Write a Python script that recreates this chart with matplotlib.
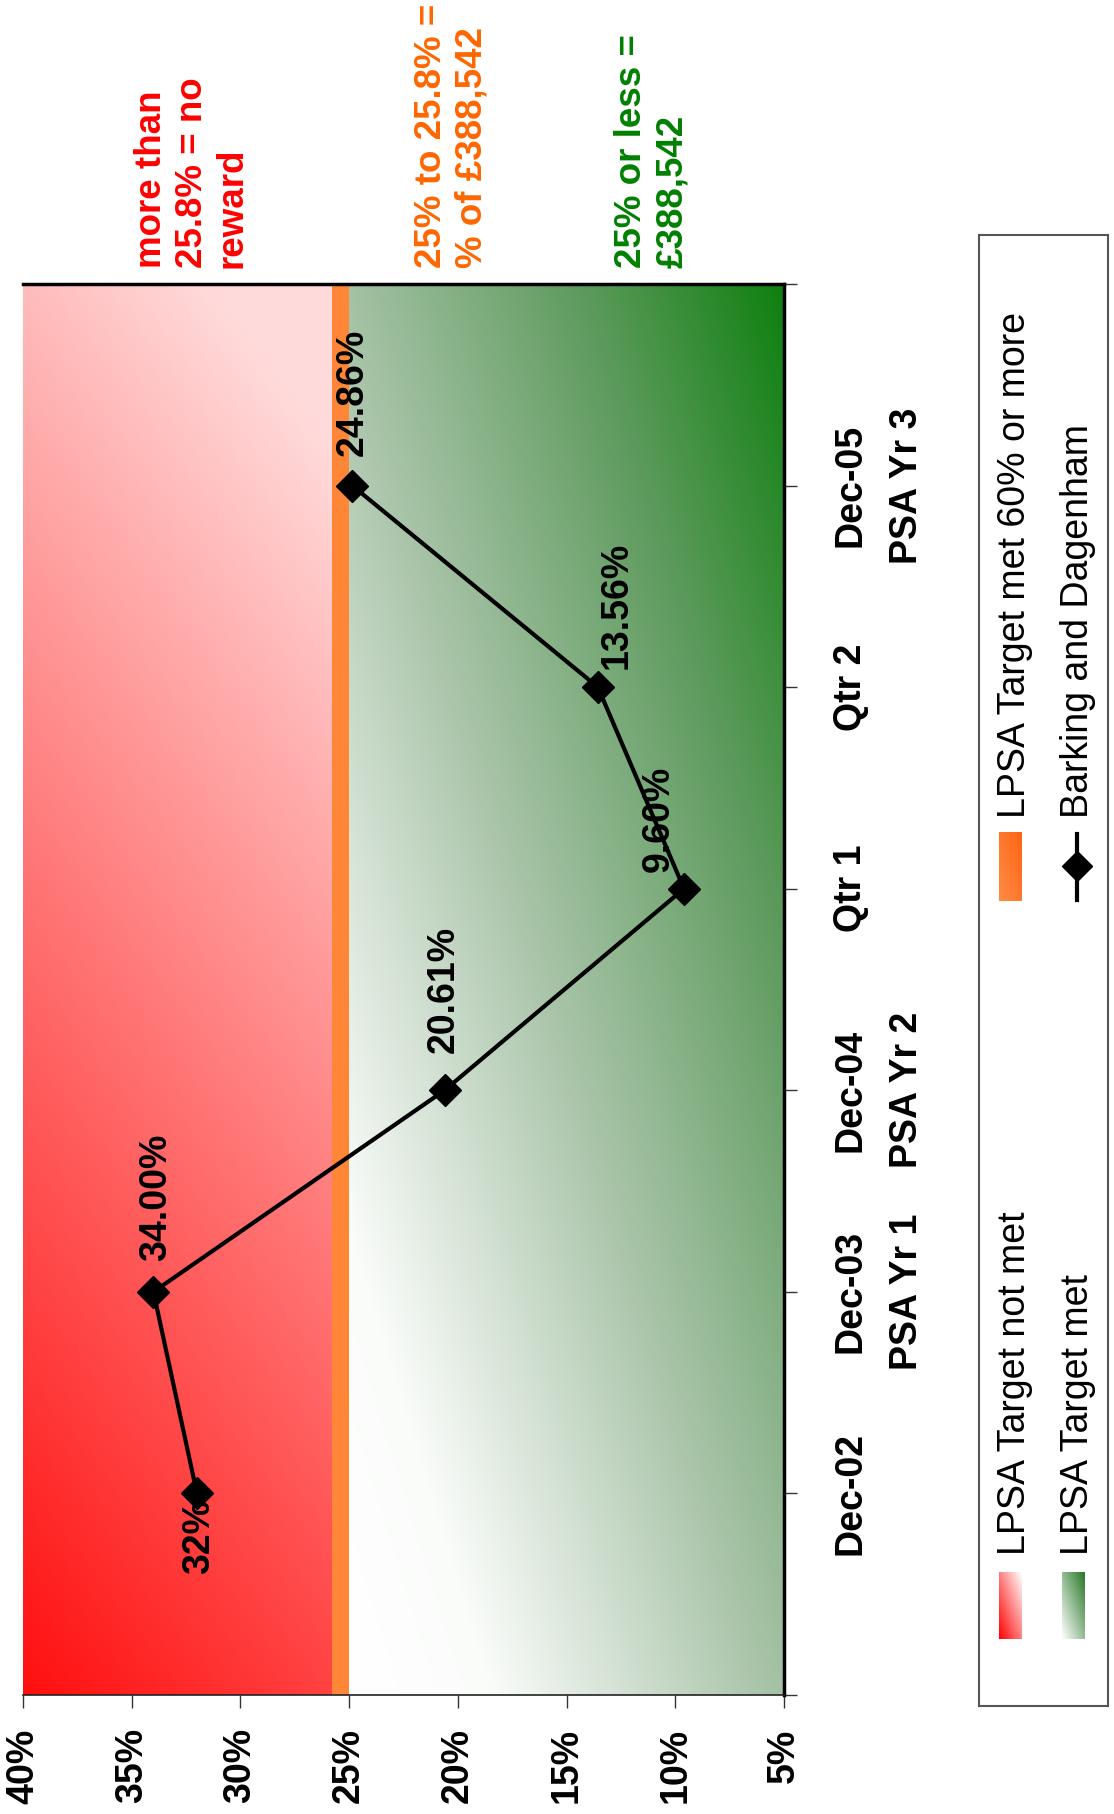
import numpy as np
import matplotlib
matplotlib.use("Agg")
import matplotlib.pyplot as plt

# data
categories = ["Dec-02", "Dec-03\nPSA Yr 1", "Dec-04\nPSA Yr 2", "Qtr 1", "Qtr 2", "Dec-05\nPSA Yr 3"]
values = [32.0, 34.00, 20.61, 9.60, 13.56, 24.86]
value_labels = ["32%", "34.00%", "20.61%", "9.60%", "13.56%", "24.86%"]
pct_ticks = [40, 35, 30, 25, 20, 15, 10, 5]
band_lo, band_hi = 25.0, 25.8   # orange "60% or more" band
legend_names = ["LPSA Target not met", "LPSA Target met",
                "LPSA Target met 60% or more", "Barking and Dagenham"]

# label offsets (pixels) and alignment, rotated frame
label_off = [(2, -6, "top"), (3, 31, "bottom"), (-1, 37, "bottom"),
             (-25, 17, "bottom"), (19, 18, "bottom"), (1, 30, "bottom")]

font = "Liberation Sans"
fs = 27

W, H = 1114, 1814
fig = plt.figure(figsize=(W / 100, H / 100), dpi=100)
fig.patch.set_facecolor("white")

# plot area in pixels
px0, px1, py0, py1 = 23, 784, 284, 1695
ax = fig.add_axes([px0 / W, (H - py1) / H, (px1 - px0) / W, (py1 - py0) / H])
ax.set_xlim(40, 5)
ax.set_ylim(-1, 6)


def lerp_stops(t, stops):
    t = np.clip(t, 0, 1)
    pos = np.array([s[0] for s in stops])
    out = np.zeros(t.shape + (3,))
    for c in range(3):
        out[..., c] = np.interp(t, pos, [s[1][c] for s in stops]) / 255.0
    return out


n = 300
u, v = np.meshgrid(np.linspace(0, 1, n), np.linspace(0, 1, n))

# red region (target not met)
t_red = 0.25 * u + 0.85 * v
red_img = lerp_stops(t_red, [(0, (255, 15, 15)), (1, (255, 218, 218))])
ax.imshow(red_img, extent=(40, band_hi, -1, 6), origin="lower", aspect="auto",
          zorder=0, interpolation="bilinear")

# green region (target met)
t_grn = ((u + v) / 2) ** 1.05
grn_img = lerp_stops(t_grn, [(0, (255, 255, 255)), (0.15, (250, 252, 250)),
                             (0.45, (172, 198, 172)), (0.75, (95, 155, 95)),
                             (1, (15, 128, 15))])
ax.imshow(grn_img, extent=(band_lo, 5, -1, 6), origin="lower", aspect="auto",
          zorder=0, interpolation="bilinear")

ax.axvspan(band_hi, band_lo, color="#FF8636", zorder=1, lw=0)

xs = np.arange(len(values))
ax.plot(values, xs, color="black", lw=3, marker="D", ms=16, zorder=3)

for i, (val, lab) in enumerate(zip(values, value_labels)):
    dx, dy, va = label_off[i]
    ax.annotate(lab, (val, i), xytext=(dx, dy), textcoords="offset pixels",
                rotation=90, ha="center", va=va, fontsize=fs,
                fontweight="bold", family=font, zorder=4)

# axes styling
ax.set_xticks(pct_ticks)
ax.set_xticklabels([f"{p}%" for p in pct_ticks], rotation=90,
                   fontsize=fs, fontweight="bold", family=font)
ax.tick_params(axis="x", length=9, width=1, color="#333333", pad=15)

ax.yaxis.tick_right()
ax.set_yticks(np.arange(-1, 7))
ax.set_yticklabels([""] + categories + [""], rotation=90, fontsize=fs,
                   fontweight="bold", family=font, linespacing=1.72,
                   va="center", ha="left", multialignment="center")
ax.tick_params(axis="y", length=9, width=1, color="#333333", pad=26)

ax.spines["left"].set_visible(False)
ax.spines["top"].set_color("black")
ax.spines["top"].set_linewidth(2.5)
ax.spines["right"].set_color("black")
ax.spines["right"].set_linewidth(2.5)
ax.spines["bottom"].set_color("#222222")
ax.spines["bottom"].set_linewidth(1.2)

# header notes above the plot
notes = [(192, "more than\n25.8% = no\nreward", "#FF0000"),
         (452, "25% to 25.8% =\n% of £388,542", "#FF6600"),
         (652, "25% or less =\n£388,542", "#008000")]
for nx, txt, col in notes:
    fig.text(nx / W, 1 - 268 / H, txt, color=col, rotation=90, ha="center",
             va="bottom", multialignment="left", fontsize=26.5,
             fontweight="bold", family=font, linespacing=1.2)

# legend box, drawn in pixel coordinates
lx0, lx1, ly0, ly1 = 979, 1108, 235, 1706
lg = fig.add_axes([lx0 / W, (H - ly1) / H, (lx1 - lx0) / W, (ly1 - ly0) / H])
lg.set_xticks([])
lg.set_yticks([])
for s in lg.spines.values():
    s.set_color("#555555")
    s.set_linewidth(1.5)

m = 60
uu, vv = np.meshgrid(np.linspace(0, 1, m), np.linspace(0, 1, m))
key_red = lerp_stops((uu + vv) / 2, [(0, (255, 0, 0)), (1, (255, 255, 255))])
key_grn = lerp_stops((uu + vv) / 2, [(0, (255, 255, 255)), (1, (40, 120, 40))])
key_org = lerp_stops((uu + vv) / 2, [(0, (255, 140, 70)), (1, (255, 100, 20))])

lg.imshow(key_red, extent=(999, 1022, 1639, 1572), origin="lower", aspect="auto")
lg.imshow(key_grn, extent=(1062, 1085, 1639, 1572), origin="lower", aspect="auto")
lg.imshow(key_org, extent=(999, 1022, 901, 832), origin="lower", aspect="auto")
lg.plot([1077, 1077], [834, 900], color="black", lw=3)
lg.plot([1077], [866], color="black", marker="D", ms=15, ls="none")
lg.set_xlim(lx0, lx1)
lg.set_ylim(ly1, ly0)

leg_pos = [(1015, 1555), (1078, 1555), (1015, 818), (1078, 818)]
for (tx, ty), name in zip(leg_pos, legend_names):
    lg.text(tx, ty, name, rotation=90, ha="center", va="bottom",
            fontsize=fs, family=font)

fig.savefig("out.png", dpi=100)
